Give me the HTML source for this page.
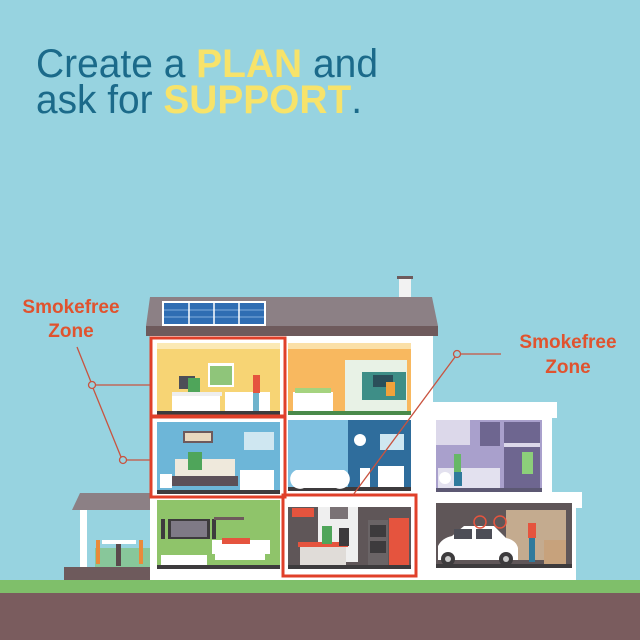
<!DOCTYPE html>
<html><head><meta charset="utf-8"><style>
html,body{margin:0;padding:0;}
body{width:640px;height:640px;overflow:hidden;background:#97d3e0;}
svg{display:block}
</style></head><body>
<svg width="640" height="640" viewBox="0 0 640 640" xmlns="http://www.w3.org/2000/svg">
<rect width="640" height="640" fill="#97d3e0"/>
<text x="36" y="77" font-family="Liberation Sans, sans-serif" font-size="40" fill="#1b6a8a" textLength="342" lengthAdjust="spacingAndGlyphs">Create a <tspan fill="#f7e36a" font-weight="bold">PLAN</tspan> and</text>
<text x="36" y="113" font-family="Liberation Sans, sans-serif" font-size="40" fill="#1b6a8a" textLength="326" lengthAdjust="spacingAndGlyphs">ask for <tspan fill="#f7e36a" font-weight="bold">SUPPORT</tspan>.</text>

<!-- ground -->
<rect x="0" y="580" width="640" height="13" fill="#7fbf6a"/>
<rect x="0" y="593" width="640" height="47" fill="#7a5c5e"/>

<!-- chimney -->
<rect x="399" y="278" width="12" height="20" fill="#f2f2f2"/>
<rect x="397" y="276" width="16" height="3" fill="#6e5a5c"/>
<!-- roof -->
<polygon points="150,297 432,297 438,326 146,326" fill="#8c8085"/>
<rect x="146" y="326" width="292" height="10" fill="#6e5a5c"/>
<!-- solar -->
<rect x="162" y="301" width="104" height="25" fill="#fff"/>
<rect x="164" y="303" width="100" height="21" fill="#2f6db3"/>
<g stroke="#9fc3ea" stroke-width="0.7">
<line x1="164" y1="310" x2="264" y2="310"/><line x1="164" y1="317" x2="264" y2="317"/>
<line x1="189" y1="303" x2="189" y2="324" stroke="#fff" stroke-width="1.5"/><line x1="214" y1="303" x2="214" y2="324" stroke="#fff" stroke-width="1.5"/><line x1="239" y1="303" x2="239" y2="324" stroke="#fff" stroke-width="1.5"/>
</g>

<!-- main house body -->
<rect x="150" y="336" width="283" height="244" fill="#fff"/>
<!-- annex -->
<rect x="433" y="402" width="124" height="16" fill="#fff"/>
<rect x="433" y="417" width="119" height="80" fill="#fff"/>
<rect x="433" y="492" width="149" height="16" fill="#fff"/>
<rect x="433" y="505" width="143" height="75" fill="#fff"/>

<!-- porch -->
<polygon points="80,493 150,493 150,510 72,510" fill="#8c8085"/>
<rect x="80" y="510" width="7" height="58" fill="#fff"/>
<rect x="64" y="567" width="86" height="13" fill="#6e5a5c"/>
<rect x="95" y="548" width="55" height="19" fill="#7fbf6a" opacity="0.6"/>
<rect x="102" y="540" width="34" height="4" fill="#fff"/>
<rect x="116" y="544" width="5" height="22" fill="#5a4a4c"/>
<rect x="96" y="540" width="4" height="24" fill="#e98a3a"/><rect x="139" y="540" width="4" height="24" fill="#e98a3a"/>

<!-- rooms row1 -->
<rect x="157" y="343" width="123" height="72" fill="#f7d474"/>
<rect x="157" y="343" width="123" height="6" fill="#fbe9b5"/>
<rect x="157" y="411" width="123" height="4" fill="#3d3b3d"/>
<rect x="172" y="396" width="48" height="15" fill="#fff"/><rect x="172" y="392" width="50" height="4" fill="#eee"/>
<rect x="179" y="376" width="16" height="13" fill="#4d4e57"/>
<rect x="188" y="378" width="12" height="14" fill="#4fa55a"/>
<rect x="208" y="363" width="26" height="24" fill="#fff"/><rect x="210" y="366" width="22" height="19" fill="#8fc57a"/>
<rect x="225" y="392" width="45" height="19" fill="#fff"/>
<rect x="253" y="375" width="7" height="18" fill="#e5543e"/><rect x="253" y="393" width="6" height="18" fill="#6fb3cc"/>

<rect x="288" y="343" width="123" height="72" fill="#f8b85f"/>
<rect x="288" y="343" width="123" height="6" fill="#fbe0a8"/>
<rect x="288" y="411" width="123" height="4" fill="#4a8a4a"/>
<rect x="293" y="392" width="40" height="19" fill="#fff"/><rect x="295" y="388" width="36" height="5" fill="#a5d37f"/>
<rect x="345" y="360" width="62" height="51" fill="#e8f2e6"/>
<rect x="362" y="372" width="44" height="28" fill="#3e8e87"/>
<rect x="373" y="375" width="20" height="12" fill="#2b4f5a"/>
<rect x="386" y="382" width="9" height="14" fill="#f1a23b"/>

<!-- row2 -->
<rect x="157" y="422" width="123" height="72" fill="#6db6d8"/>
<rect x="157" y="490" width="123" height="4" fill="#3d3b3d"/>
<rect x="183" y="431" width="30" height="12" fill="#6e5a5c"/><rect x="185" y="433" width="26" height="8" fill="#e9d9bf"/>
<rect x="244" y="432" width="30" height="18" fill="#cfe7f1"/>
<rect x="175" y="459" width="60" height="20" fill="#efe9dc"/>
<rect x="172" y="476" width="66" height="10" fill="#5c5058"/>
<rect x="188" y="452" width="14" height="18" fill="#4fa55a"/>
<rect x="240" y="470" width="34" height="20" fill="#fff"/>
<rect x="160" y="474" width="12" height="14" fill="#fff"/>

<rect x="288" y="420" width="60" height="71" fill="#7ec0e0"/>
<rect x="348" y="420" width="63" height="71" fill="#2f6d9c"/>
<rect x="288" y="487" width="123" height="4" fill="#3d3b3d"/>
<path d="M296 470 h48 a8 8 0 0 1 -8 18 h-32 a8 8 0 0 1 -8 -18z" fill="#fff"/>
<rect x="360" y="468" width="10" height="19" fill="#fff"/>
<rect x="378" y="466" width="26" height="21" fill="#fff"/>
<rect x="380" y="434" width="24" height="16" fill="#cfe7f1"/>
<circle cx="360" cy="440" r="6" fill="#fff"/>

<!-- annex upper laundry -->
<rect x="436" y="420" width="106" height="72" fill="#a9a0cc"/>
<rect x="436" y="420" width="34" height="25" fill="#dcd8ea"/>
<rect x="480" y="422" width="20" height="24" fill="#6e6690"/>
<rect x="504" y="422" width="36" height="66" fill="#6e6690"/>
<rect x="504" y="443" width="36" height="4" fill="#dcd8ea"/>
<rect x="522" y="452" width="11" height="22" fill="#8ccf7a"/>
<rect x="438" y="468" width="62" height="20" fill="#e3e1ef"/>
<circle cx="445" cy="478" r="6" fill="#fff"/>
<rect x="454" y="454" width="7" height="18" fill="#66b866"/>
<rect x="454" y="472" width="8" height="14" fill="#2f7a9c"/>
<rect x="436" y="488" width="106" height="4" fill="#5c5873"/>

<!-- row3 living -->
<rect x="157" y="500" width="123" height="68" fill="#8fc46a"/>
<rect x="157" y="565" width="123" height="4" fill="#3d3b3d"/>
<rect x="168" y="519" width="42" height="20" fill="#3d3b3d"/><rect x="171" y="521" width="36" height="16" fill="#7f7a86"/>
<rect x="161" y="519" width="4" height="20" fill="#3d3b3d"/><rect x="212" y="519" width="4" height="20" fill="#3d3b3d"/>
<rect x="161" y="555" width="46" height="10" fill="#fff"/>
<rect x="212" y="540" width="58" height="14" fill="#fff"/><rect x="215" y="552" width="50" height="8" fill="#fff"/>
<rect x="222" y="538" width="28" height="6" fill="#e5543e"/>
<rect x="214" y="517" width="30" height="3" fill="#6e5a5c"/>

<!-- kitchen -->
<rect x="288" y="502" width="123" height="67" fill="#5f5658"/>
<rect x="288" y="502" width="123" height="5" fill="#fff"/>
<rect x="292" y="508" width="22" height="9" fill="#e5543e"/>
<rect x="318" y="507" width="40" height="55" fill="#efefef"/>
<rect x="330" y="507" width="18" height="12" fill="#7a7275"/>
<rect x="298" y="542" width="50" height="5" fill="#e5543e"/>
<rect x="300" y="547" width="46" height="18" fill="#e0dcd8"/>
<rect x="322" y="526" width="10" height="18" fill="#4fa55a"/>
<rect x="339" y="528" width="10" height="18" fill="#3d3b3d"/>
<rect x="368" y="520" width="20" height="45" fill="#6a6466"/>
<rect x="370" y="525" width="16" height="12" fill="#3d3b3d"/><rect x="370" y="541" width="16" height="12" fill="#3d3b3d"/>
<rect x="389" y="518" width="20" height="48" fill="#e5543e"/>
<rect x="288" y="565" width="123" height="4" fill="#3d3b3d"/>

<!-- garage -->
<rect x="436" y="503" width="136" height="65" fill="#5f5658"/>
<rect x="506" y="510" width="60" height="50" fill="#c4ab8f"/>
<rect x="436" y="564" width="136" height="4" fill="#3d3b3d"/>
<path d="M438 560 v-14 q4 -8 14 -10 l12 -10 h30 l12 12 q10 2 12 10 v12z" fill="#fff"/>
<rect x="454" y="529" width="18" height="10" fill="#4d4e57"/><rect x="476" y="529" width="16" height="10" fill="#4d4e57"/>
<circle cx="448" cy="559" r="7" fill="#3d3b3d"/><circle cx="506" cy="559" r="7" fill="#3d3b3d"/>
<circle cx="448" cy="559" r="3" fill="#ccc"/><circle cx="506" cy="559" r="3" fill="#ccc"/>
<circle cx="480" cy="522" r="6" fill="none" stroke="#e5543e" stroke-width="1.5"/><circle cx="500" cy="522" r="6" fill="none" stroke="#e5543e" stroke-width="1.5"/>
<rect x="528" y="523" width="8" height="15" fill="#e5543e"/><rect x="529" y="538" width="6" height="24" fill="#2f7a9c"/>
<rect x="544" y="540" width="22" height="24" fill="#c7a27c"/>

<!-- red zone boxes -->
<g fill="none" stroke="#e0402a" stroke-width="3">
<rect x="151" y="338" width="134" height="78"/>
<rect x="151" y="417" width="134" height="80"/>
<rect x="283" y="495" width="133" height="81"/>
</g>

<!-- connector lines -->
<g stroke="#c9533f" stroke-width="1.3" fill="none">
<line x1="77" y1="347" x2="91" y2="382"/>
<line x1="93" y1="388" x2="121" y2="457"/>
<line x1="96" y1="385" x2="150" y2="385"/>
<line x1="127" y1="460" x2="150" y2="460"/>
<line x1="461" y1="354" x2="501" y2="354"/>
<line x1="455" y1="357" x2="353" y2="495"/>
</g>
<g stroke="#c9533f" stroke-width="1.3" fill="#97d3e0">
<circle cx="92" cy="385" r="3.5"/>
<circle cx="123" cy="460" r="3.5"/>
<circle cx="457" cy="354" r="3.5"/>
</g>

<g font-family="Liberation Sans, sans-serif" font-weight="bold" font-size="19" fill="#e0532f" text-anchor="middle">
<text x="71" y="313">Smokefree</text>
<text x="71" y="337">Zone</text>
<text x="568" y="348">Smokefree</text>
<text x="568" y="373">Zone</text>
</g>
</svg>
</body></html>
